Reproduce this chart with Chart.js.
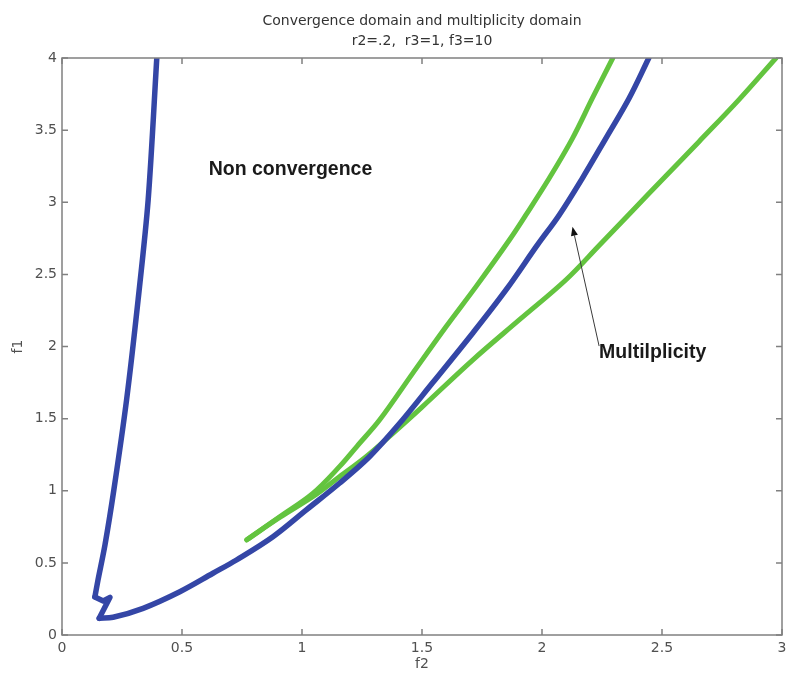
<!DOCTYPE html>
<html>
<head>
<meta charset="utf-8">
<title>Convergence domain and multiplicity domain</title>
<script src="https://cdn.jsdelivr.net/npm/chart.js@4.4.1/dist/chart.umd.min.js"></script>
<style>
  html, body { margin: 0; padding: 0; background: #ffffff; }
  #wrap { width: 787px; height: 673px; position: relative; }
</style>
</head>
<body>
<div id="wrap"><canvas id="chart"></canvas></div>
<script>
// Convergence boundary: f2 (horizontal) and f1 (vertical), traced in order
const convF2 = [0.395, 0.359, 0.317, 0.269, 0.216, 0.179, 0.150, 0.137, 0.172, 0.200, 0.155,
                0.213, 0.338, 0.491, 0.629, 0.727, 0.879, 1.018, 1.156, 1.281, 1.398, 1.545, 1.711,
                1.850, 1.981, 2.072, 2.168, 2.266, 2.363, 2.445];
const convF1 = [4.000, 3.016, 2.322, 1.629, 1.005, 0.624, 0.381, 0.264, 0.236, 0.261, 0.116,
                0.123, 0.185, 0.300, 0.428, 0.520, 0.681, 0.867, 1.052, 1.236, 1.450, 1.750, 2.092,
                2.392, 2.704, 2.912, 3.166, 3.443, 3.721, 4.000];

// Multiplicity boundary, upper branch (from the cusp upward)
const multUpperF2 = [0.770, 0.907, 1.045, 1.156, 1.230, 1.323, 1.461, 1.600, 1.725, 1.864, 1.933, 2.030, 2.127, 2.210, 2.295];
const multUpperF1 = [0.660, 0.820, 0.982, 1.167, 1.310, 1.490, 1.814, 2.137, 2.415, 2.738, 2.912, 3.166, 3.443, 3.721, 4.000];

// Multiplicity boundary, lower branch (from the cusp upward)
const multLowerF2 = [0.770, 0.907, 1.059, 1.156, 1.267, 1.380, 1.500, 1.711, 1.905, 2.099, 2.238, 2.376, 2.515, 2.654, 2.820, 2.975];
const multLowerF1 = [0.660, 0.815, 0.975, 1.097, 1.236, 1.400, 1.580, 1.906, 2.184, 2.461, 2.700, 2.940, 3.180, 3.420, 3.710, 4.000];

// Axis ticks
const xTicks = [0, 0.5, 1, 1.5, 2, 2.5, 3];
const yTicks = [0, 0.5, 1, 1.5, 2, 2.5, 3, 3.5, 4];

// Region labels and the pointer (positions in f2/f1 units)
const notes = [
  { text: 'Non convergence', f2: 0.611, f1: 3.224 },
  { text: 'Multilplicity',   f2: 2.238, f1: 1.955 }
];
const pointer = { fromF2: 2.238, fromF1: 2.003, toF2: 2.127, toF1: 2.831 };

// index ranges of the convergence boundary pieces: left branch, kink, rising branch
const CONV_LEFT_END = 8, CONV_KINK_END = 11;

const toPoints = (xs, ys, from, to) =>
  xs.slice(from, to).map((x, i) => ({ x: x, y: ys[from + i] }));

const BLUE = '#3446a6';
const GREEN = '#63c43f';
const AXIS = '#808080';
const TEXT = '#505050';

// Box around the plot, inward tick marks on all four sides, and the text notes
const framePlugin = {
  id: 'frame',
  afterDatasetsDraw(chart) {
    const { ctx, chartArea: a, scales } = chart;
    const sx = scales.x, sy = scales.y;
    ctx.save();
    ctx.strokeStyle = AXIS;
    ctx.lineWidth = 1.5;
    ctx.strokeRect(a.left, a.top, a.right - a.left, a.bottom - a.top);
    const len = 6;
    ctx.beginPath();
    xTicks.forEach(v => {
      const px = sx.getPixelForValue(v);
      ctx.moveTo(px, a.bottom); ctx.lineTo(px, a.bottom - len);
      ctx.moveTo(px, a.top);    ctx.lineTo(px, a.top + len);
    });
    yTicks.forEach(v => {
      const py = sy.getPixelForValue(v);
      ctx.moveTo(a.left, py);  ctx.lineTo(a.left + len, py);
      ctx.moveTo(a.right, py); ctx.lineTo(a.right - len, py);
    });
    ctx.stroke();

    // pointer line with a filled head
    const x0 = sx.getPixelForValue(pointer.fromF2), y0 = sy.getPixelForValue(pointer.fromF1);
    const x1 = sx.getPixelForValue(pointer.toF2),   y1 = sy.getPixelForValue(pointer.toF1);
    const ang = Math.atan2(y1 - y0, x1 - x0);
    const head = 9, half = 3.5;
    ctx.strokeStyle = '#3a3a3a';
    ctx.lineWidth = 1;
    ctx.beginPath();
    ctx.moveTo(x0, y0);
    ctx.lineTo(x1 - Math.cos(ang) * head, y1 - Math.sin(ang) * head);
    ctx.stroke();
    ctx.fillStyle = '#111111';
    ctx.beginPath();
    ctx.moveTo(x1, y1);
    ctx.lineTo(x1 - Math.cos(ang) * head - Math.sin(ang) * half, y1 - Math.sin(ang) * head + Math.cos(ang) * half);
    ctx.lineTo(x1 - Math.cos(ang) * head + Math.sin(ang) * half, y1 - Math.sin(ang) * head - Math.cos(ang) * half);
    ctx.closePath();
    ctx.fill();

    // region labels
    ctx.fillStyle = '#1a1a1a';
    ctx.font = 'bold 19.5px "Liberation Sans", Arial, sans-serif';
    ctx.textAlign = 'left';
    ctx.textBaseline = 'middle';
    notes.forEach(n => {
      ctx.fillText(n.text, sx.getPixelForValue(n.f2), sy.getPixelForValue(n.f1));
    });
    ctx.restore();
  }
};

const tickFont = { family: '"DejaVu Sans", sans-serif', size: 14 };

const lineStyle = (color, width, tension) => ({
  showLine: true,
  borderColor: color,
  borderWidth: width,
  pointRadius: 0,
  tension: tension,
  borderCapStyle: 'round',
  borderJoinStyle: 'round'
});

new Chart(document.getElementById('chart'), {
  type: 'scatter',
  data: {
    datasets: [
      // convergence boundary: steep left branch, small kink, then the long rising branch
      Object.assign({ label: 'Convergence boundary', data: toPoints(convF2, convF1, 0, CONV_LEFT_END) }, lineStyle(BLUE, 5.5, 0.3)),
      Object.assign({ label: 'Convergence boundary (kink)', data: toPoints(convF2, convF1, CONV_LEFT_END - 1, CONV_KINK_END) }, lineStyle(BLUE, 5.5, 0)),
      Object.assign({ label: 'Convergence boundary (rising)', data: toPoints(convF2, convF1, CONV_KINK_END - 1, convF2.length) }, lineStyle(BLUE, 5.5, 0.35)),
      Object.assign({ label: 'Multiplicity (upper)', data: toPoints(multUpperF2, multUpperF1, 0, multUpperF2.length) }, lineStyle(GREEN, 5, 0.35)),
      Object.assign({ label: 'Multiplicity (lower)', data: toPoints(multLowerF2, multLowerF1, 0, multLowerF2.length) }, lineStyle(GREEN, 5, 0.35))
    ]
  },
  options: {
    responsive: true,
    maintainAspectRatio: false,
    animation: false,
    layout: { padding: { left: 0, right: 5, top: 0, bottom: 0 } },
    plugins: {
      legend: { display: false },
      tooltip: { enabled: false },
      title: {
        display: true,
        fullSize: false,
        text: ['Convergence domain and multiplicity domain', 'r2=.2,  r3=1, f3=10'],
        color: '#333333',
        font: { family: '"DejaVu Sans", sans-serif', size: 14, weight: 'normal', lineHeight: '20px' },
        padding: { top: 11, bottom: 7 }
      }
    },
    scales: {
      x: {
        type: 'linear',
        min: 0, max: 3,
        afterBuildTicks: s => { s.ticks = xTicks.map(v => ({ value: v })); },
        afterFit: s => { s.height = 38; s.paddingLeft = 0; s.paddingRight = 0; },
        grid: { display: false, drawTicks: false },
        border: { display: false },
        ticks: { color: TEXT, font: tickFont, padding: 5, maxRotation: 0, autoSkip: false, callback: v => String(v) },
        title: { display: true, text: 'f2', color: TEXT, font: tickFont, padding: { top: 0, bottom: 0 } }
      },
      y: {
        type: 'linear',
        min: 0, max: 4,
        afterBuildTicks: s => { s.ticks = yTicks.map(v => ({ value: v })); },
        afterFit: s => { s.width = 62; },
        grid: { display: false, drawTicks: false },
        border: { display: false },
        ticks: { color: TEXT, font: tickFont, padding: 5, autoSkip: false, callback: v => String(v) },
        title: { display: true, text: 'f1', color: TEXT, font: tickFont, padding: { top: 10, bottom: 0 } }
      }
    }
  },
  plugins: [framePlugin]
});
</script>
</body>
</html>
